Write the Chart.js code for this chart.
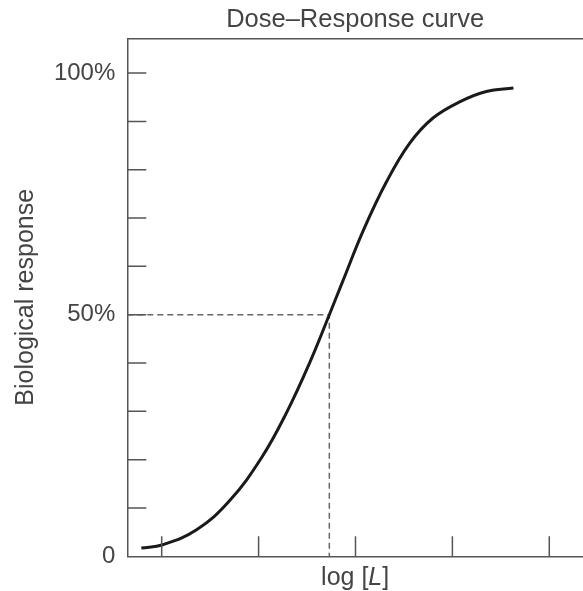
<!DOCTYPE html>
<html>
<head>
<meta charset="utf-8">
<script src="https://cdn.jsdelivr.net/npm/chart.js@4"></script>
<style>
  body{margin:0;background:#fff;}
  canvas{display:block;}
</style>
</head>
<body>
<canvas id="chart" width="583" height="591"></canvas>
<script>
// values
const curveX = [0.79, 1.01, 1.36, 1.70, 2.03, 2.29, 2.53, 2.73, 2.87, 3.08, 3.32, 3.56, 3.80, 4.08, 4.35, 4.63];
const curveY = [1.7, 2.4, 5.5, 11.5, 20.4, 29.8, 40.2, 50.0, 57.0, 67.4, 77.5, 85.5, 90.7, 94.1, 96.2, 96.9];
const halfX = 2.73;      // log[L] at 50% response
const halfY = 50;
const xTicks = [1, 2, 3, 4, 5];
const yTicks = [0, 10, 20, 30, 40, 50, 60, 70, 80, 90, 100];
const yLabels = {0: '0', 50: '50%', 100: '100%'};
const xMin = 0.645, xMax = 5.348, yMin = 0, yMax = 107.2;

const axisColor = '#555';
const textColor = '#444';
Chart.defaults.font.family = '"Liberation Sans", Arial, sans-serif';
Chart.defaults.font.size = 24;
Chart.defaults.color = textColor;

// inward tick marks + italic x title
const axisExtras = {
  id: 'axisExtras',
  afterDraw(chart){
    const ctx = chart.ctx, a = chart.chartArea;
    const xs = chart.scales.x, ys = chart.scales.y;
    ctx.save();
    ctx.strokeStyle = axisColor;
    ctx.lineWidth = 1.5;
    ctx.beginPath();
    yTicks.forEach(v => {
      if(v === 0) return;
      const y = ys.getPixelForValue(v);
      ctx.moveTo(a.left, y); ctx.lineTo(a.left + 19, y);
    });
    xTicks.forEach(v => {
      const x = xs.getPixelForValue(v);
      ctx.moveTo(x, a.bottom); ctx.lineTo(x, a.bottom - 20);
    });
    ctx.stroke();

    // "log [L]" with italic L
    const f = Chart.defaults.font.family;
    const parts = [['log [', 'normal'], ['L', 'italic'], [']', 'normal']];
    let w = 0;
    parts.forEach(p => { ctx.font = p[1] + ' 25px ' + f; w += ctx.measureText(p[0]).width; });
    let x = (a.left + a.right) / 2 - w / 2;
    const y = 578;
    ctx.fillStyle = textColor;
    ctx.textBaseline = 'middle';
    parts.forEach(p => {
      ctx.font = p[1] + ' 25px ' + f;
      ctx.fillText(p[0], x, y);
      x += ctx.measureText(p[0]).width;
    });
    ctx.restore();
  }
};

new Chart(document.getElementById('chart'), {
  type: 'line',
  data: {
    datasets: [
      {
        label: 'response',
        data: curveX.map((x, i) => ({x: x, y: curveY[i]})),
        borderColor: '#1a1a1a',
        borderWidth: 3,
        pointRadius: 0,
        tension: 0.4,
        fill: false
      },
      {
        label: 'half',
        data: [{x: xMin, y: halfY}, {x: halfX, y: halfY}, {x: halfX, y: 0}],
        borderColor: '#666',
        borderWidth: 1.5,
        borderDash: [6, 4],
        pointRadius: 0,
        tension: 0,
        fill: false
      }
    ]
  },
  options: {
    responsive: false,
    animation: false,
    layout: {padding: 0},
    plugins: {
      legend: {display: false},
      tooltip: {enabled: false},
      title: {
        display: true,
        text: 'Dose\u2013Response curve',
        fullSize: false,
        color: textColor,
        font: {size: 25.5, weight: 'normal', lineHeight: 1.2},
        padding: {top: 5, bottom: 2.7}
      }
    },
    scales: {
      x: {
        type: 'linear',
        position: 'bottom',
        min: xMin, max: xMax,
        afterBuildTicks: s => { s.ticks = xTicks.map(v => ({value: v})); },
        afterFit: s => { s.height = 34.7; },
        ticks: {display: false},
        grid: {drawOnChartArea: false, drawTicks: false},
        border: {display: true, color: axisColor, width: 1.5}
      },
      top: {
        type: 'linear',
        position: 'top',
        min: xMin, max: xMax,
        afterFit: s => { s.height = 0; },
        ticks: {display: false},
        grid: {drawOnChartArea: false, drawTicks: false},
        border: {display: true, color: axisColor, width: 1.5}
      },
      y: {
        type: 'linear',
        min: yMin, max: yMax,
        afterBuildTicks: s => { s.ticks = yTicks.map(v => ({value: v})); },
        afterFit: s => { s.width = 127.3; },
        ticks: {
          padding: 12,
          color: textColor,
          callback: v => yLabels[v] || ''
        },
        grid: {drawOnChartArea: false, drawTicks: false},
        border: {display: true, color: axisColor, width: 1.5},
        title: {
          display: true,
          text: 'Biological response',
          color: textColor,
          font: {size: 25},
          padding: {top: 11, bottom: 0}
        }
      }
    }
  },
  plugins: [axisExtras]
});
</script>
</body>
</html>
